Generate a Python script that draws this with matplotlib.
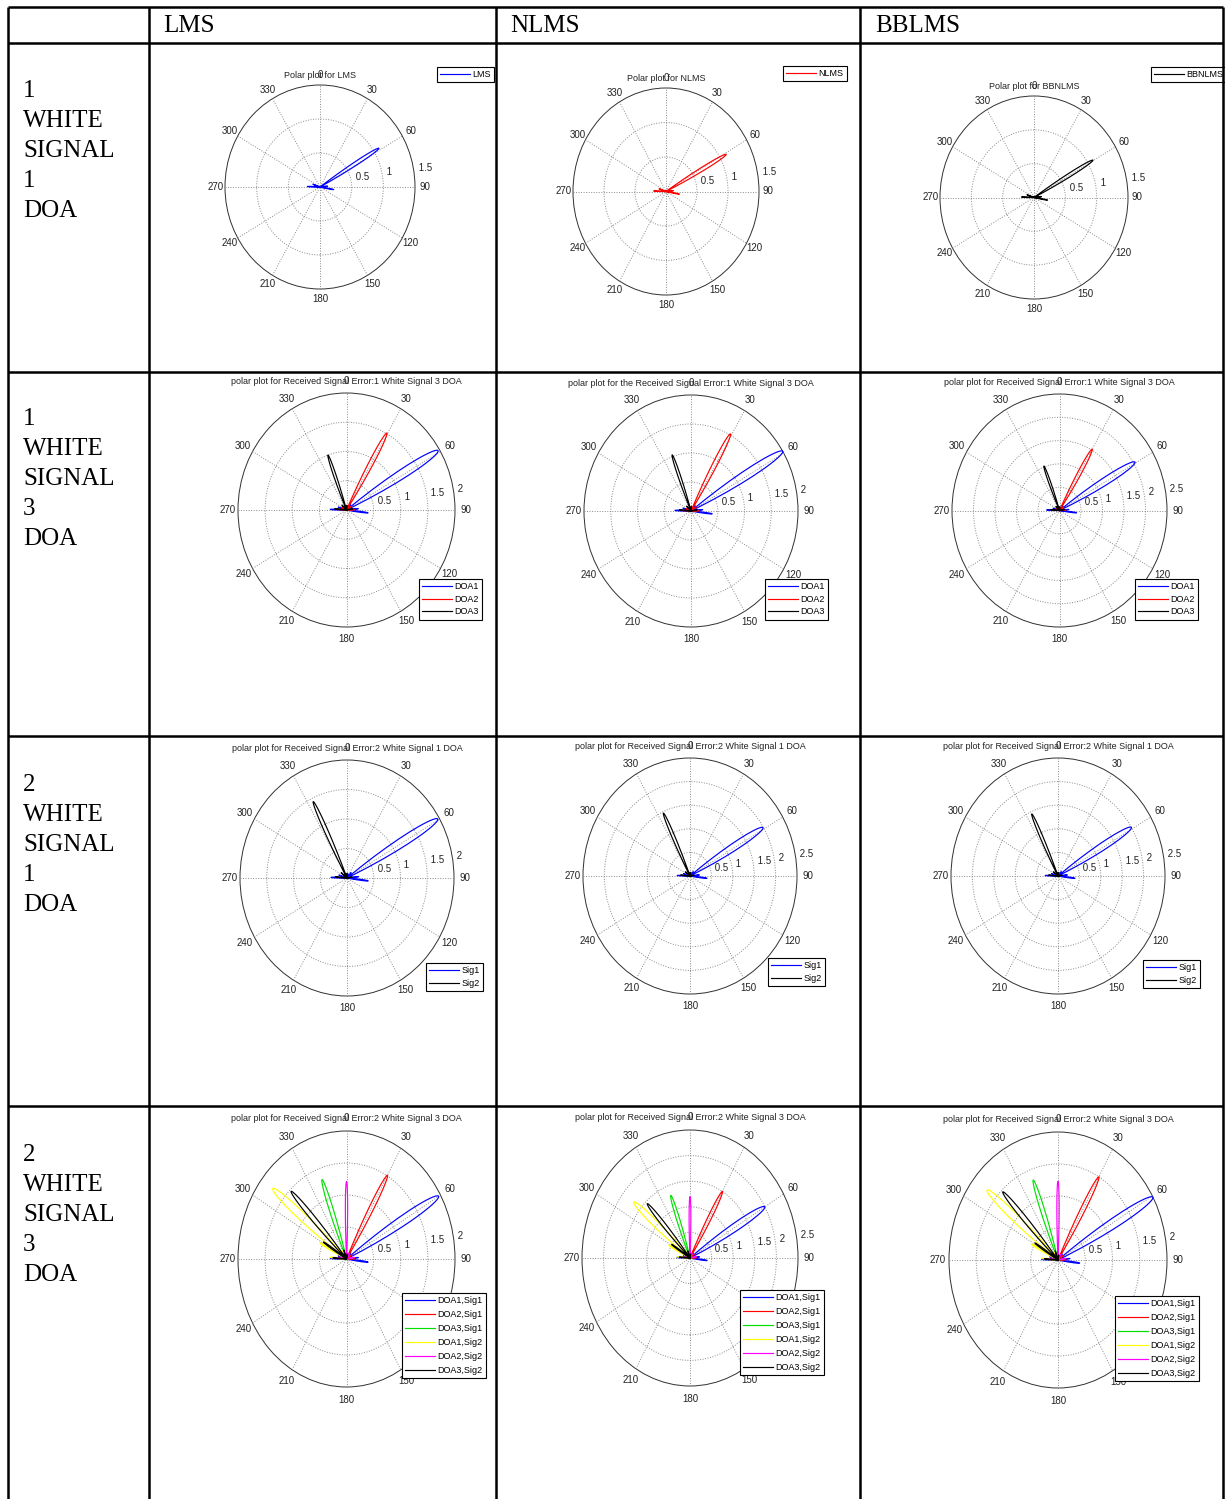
import numpy as np
import matplotlib
matplotlib.use('Agg')
import matplotlib.pyplot as plt
from matplotlib.patches import Circle

W, H = 1225, 1499

# ---- table text ----
algorithms = ["LMS", "NLMS", "BBLMS"]
row_labels = [["1", "WHITE", "SIGNAL", "1", "DOA"],
              ["1", "WHITE", "SIGNAL", "3", "DOA"],
              ["2", "WHITE", "SIGNAL", "1", "DOA"],
              ["2", "WHITE", "SIGNAL", "3", "DOA"]]

titles = [
    ["Polar plot for LMS", "Polar plot for NLMS", "Polar plot for BBNLMS"],
    ["polar plot for Received Signal Error:1 White Signal 3 DOA",
     "polar plot for the Received Signal Error:1 White Signal 3 DOA",
     "polar plot for Received Signal Error:1 White Signal 3 DOA"],
    ["polar plot for Received Signal Error:2 White Signal 1 DOA"] * 3,
    ["polar plot for Received Signal Error:2 White Signal 3 DOA"] * 3,
]
r_max = [[1.5, 1.5, 1.5], [2, 2, 2.5], [2, 2.5, 2.5], [2, 2.5, 2]]
ring_step = 0.5

# ---- legend names ----
series_names = [
    [["LMS"], ["NLMS"], ["BBNLMS"]],
    [["DOA1", "DOA2", "DOA3"]] * 3,
    [["Sig1", "Sig2"]] * 3,
    [["DOA1,Sig1", "DOA2,Sig1", "DOA3,Sig1", "DOA1,Sig2", "DOA2,Sig2", "DOA3,Sig2"]] * 3,
]

# ---- main lobes (deg clockwise from top, magnitude) ----
main_angle = [
    [[58.5], [61.0], [59.6]],
    [[59.0, 29.5, -20.0], [59.0, 29.0, -20.0], [59.4, 30.0, -20.8]],
    [[59.5, -26.0], [59.0, -25.0], [59.0, -25.0]],
    [[60.0, 30.0, -20.0, -51.0, 0.0, -44.0],
     [60.0, 30.0, -20.0, -50.0, 0.0, -43.0],
     [60.6, 30.0, -20.0, -50.0, 0.0, -43.6]],
]
main_peak = [
    [[1.09], [1.11], [1.09]],
    [[1.97, 1.51, 1.00], [2.00, 1.52, 1.03], [2.04, 1.52, 1.02]],
    [[1.97, 1.44], [1.99, 1.47], [2.00, 1.45]],
    [[1.96, 1.51, 1.32, 1.75, 1.21, 1.47],
     [2.00, 1.50, 1.30, 1.70, 1.20, 1.45],
     [2.00, 1.50, 1.33, 1.70, 1.23, 1.47]],
]
main_width = [[4.0], [6.5, 4.5, 3.8], [6.5, 3.8], [6.5, 4.5, 4.5, 6.0, 2.8, 4.5]]

# ---- side lobes near the centre, per series of each row ----
side_angle = [
    [[-88, -70, 84, 100]],
    [[-88, -72, -50, 20, 40, 84, 97], [-86, -65, 0, 55, 88], [-85, -45, 5, 80]],
    [[-88, -72, -50, 20, 40, 84, 97], [-85, -50, 0, 80]],
    [[-88, -72, -50, 20, 40, 84, 97], [-86, -65, 0, 55, 88], [-85, -45, 5, 80],
     [-85, -63, -30, 20], [-80, -30, 30, 80], [-86, -58, -20, 10]],
]
side_peak = [
    [[0.20, 0.12, 0.12, 0.22]],
    [[0.30, 0.16, 0.08, 0.07, 0.12, 0.22, 0.40], [0.18, 0.10, 0.08, 0.12, 0.15],
     [0.22, 0.12, 0.08, 0.12]],
    [[0.30, 0.16, 0.08, 0.07, 0.12, 0.22, 0.40], [0.22, 0.14, 0.08, 0.10]],
    [[0.30, 0.16, 0.08, 0.07, 0.12, 0.22, 0.40], [0.18, 0.10, 0.08, 0.12, 0.15],
     [0.22, 0.12, 0.08, 0.12], [0.30, 0.55, 0.15, 0.08], [0.15, 0.10, 0.10, 0.15],
     [0.25, 0.50, 0.15, 0.08]],
]

# ---- styles / layout (pixels) ----
row_colors = [[["#0000ff"], ["#ff0000"], ["#000000"]],
              [["#0000ff", "#ff0000", "#000000"]] * 3,
              [["#0000ff", "#000000"]] * 3,
              [["#0000ff", "#ff0000", "#00e000", "#ffff00", "#ff00ff", "#000000"]] * 3]
centers = [[(320, 187), (666, 191.5), (1034, 197.5)],
           [(346.5, 510), (691, 511), (1059.5, 510.5)],
           [(347, 878), (690, 876), (1058, 876)],
           [(346.5, 1259), (690, 1258), (1058, 1260)]]
radii = [[(95, 102), (93, 103.5), (94, 101.5)],
         [(108.5, 117), (107, 116), (107.5, 116.5)],
         [(107, 118), (107, 118), (107, 118)],
         [(108.5, 128), (108, 128), (109, 128)]]
legend_corner = [[(437, 67), (783, 66), (1151, 67)],
                 [(419, 579), (765, 579), (1135, 579)],
                 [(426, 963), (768, 958), (1143, 960)],
                 [(402, 1293), (740, 1290), (1115, 1296)]]
col_lines = [7.5, 148.5, 495.5, 859.5, 1222.5]
row_lines = [6.5, 43, 372, 736, 1106]
label_baseline = [97, 425, 791, 1161]

plot_font = ['Liberation Sans Narrow', 'Liberation Sans']
serif = ['Liberation Serif']
grid_kw = dict(color='#8a8a8a', lw=0.7, ls=(0, (1, 1.6)))


def lobe_curve(angles, peaks, widths):
    order = np.argsort(angles)
    xs, ys = [0.0], [0.0]
    for i in order:
        phi = np.linspace(-widths[i], widths[i], 41)
        r = peaks[i] * np.cos(np.pi / 2 * phi / widths[i])
        t = np.radians(angles[i] + phi)
        xs.extend(r * np.sin(t))
        ys.extend(r * np.cos(t))
    return xs, ys


def draw_polar(ax, rmax, title):
    k = 1.3
    ax.set_xlim(-k * rmax, k * rmax)
    ax.set_ylim(-k * rmax, k * rmax)
    ax.axis('off')
    rings = np.arange(ring_step, rmax + 1e-9, ring_step)
    for r in rings[:-1]:
        ax.add_patch(Circle((0, 0), r, fill=False, **grid_kw))
    ax.add_patch(Circle((0, 0), rmax, fill=False, color='#303030', lw=0.7))
    for a in range(0, 180, 30):
        t = np.radians(a)
        ax.plot([-rmax * np.sin(t), rmax * np.sin(t)],
                [-rmax * np.cos(t), rmax * np.cos(t)], **grid_kw)
    for a in range(0, 360, 30):
        t = np.radians(a)
        ax.text(1.1 * rmax * np.sin(t), 1.1 * rmax * np.cos(t), str(a),
                ha='center', va='center', fontsize=7, color='#222222',
                family=plot_font)
    c82 = np.radians(82)
    for r in rings:
        rr = r + ring_step / 20
        ax.text(rr * np.sin(c82), rr * np.cos(c82), ' %g' % r, ha='left',
                va='bottom', fontsize=7, color='#222222', family=plot_font)
    ax.text(0, 1.095 * rmax, title, ha='center', va='center', fontsize=6.5,
            color='#222222', family=plot_font)


fig = plt.figure(figsize=(W / 100, H / 100), dpi=100)

for i in range(4):
    for j in range(3):
        cx, cy = centers[i][j]
        rx, ry = radii[i][j]
        k = 1.3
        ax = fig.add_axes([(cx - k * rx) / W, 1 - (cy + k * ry) / H,
                           2 * k * rx / W, 2 * k * ry / H])
        rmax = r_max[i][j]
        draw_polar(ax, rmax, titles[i][j])
        handles = []
        for s, name in enumerate(series_names[i][j]):
            sa = side_angle[i][0 if i == 0 else s]
            sp = side_peak[i][0 if i == 0 else s]
            angs = [main_angle[i][j][s]] + list(sa)
            pks = [main_peak[i][j][s]] + list(sp)
            wds = [main_width[i][s]] + [3.5] * len(sa)
            x, y = lobe_curve(angs, pks, wds)
            h, = ax.plot(x, y, color=row_colors[i][j][s], lw=0.85, label=name)
            handles.append(h)
        lx, ly = legend_corner[i][j]
        leg = ax.legend(handles=handles, loc='upper left',
                        bbox_to_anchor=(lx / W, 1 - ly / H),
                        bbox_transform=fig.transFigure, borderaxespad=0,
                        prop={'family': plot_font, 'size': 6.5},
                        frameon=True, fancybox=False, edgecolor='black',
                        framealpha=1, borderpad=0.35, handlelength=3.3,
                        handletextpad=0.3,
                        labelspacing=0.55 if i == 3 else 0.4)
        leg.get_frame().set_linewidth(0.8)

# table frame and labels on top
bg = fig.add_axes([0, 0, 1, 1], zorder=10)
bg.set_xlim(0, W)
bg.set_ylim(H, 0)
bg.axis('off')
bg.vlines(col_lines, row_lines[0], H, color='black', lw=1.8)
bg.hlines(row_lines, col_lines[0], col_lines[-1], color='black', lw=1.8)

header_x = [163, 510, 875]
for name, x in zip(algorithms, header_x):
    bg.text(x, 32, name, ha='left', va='baseline', fontsize=18, family=serif)
for i, lines in enumerate(row_labels):
    for n, word in enumerate(lines):
        bg.text(23, label_baseline[i] + 30 * n, word, ha='left', va='baseline',
                fontsize=18, family=serif)

fig.savefig('out.png', dpi=100)
